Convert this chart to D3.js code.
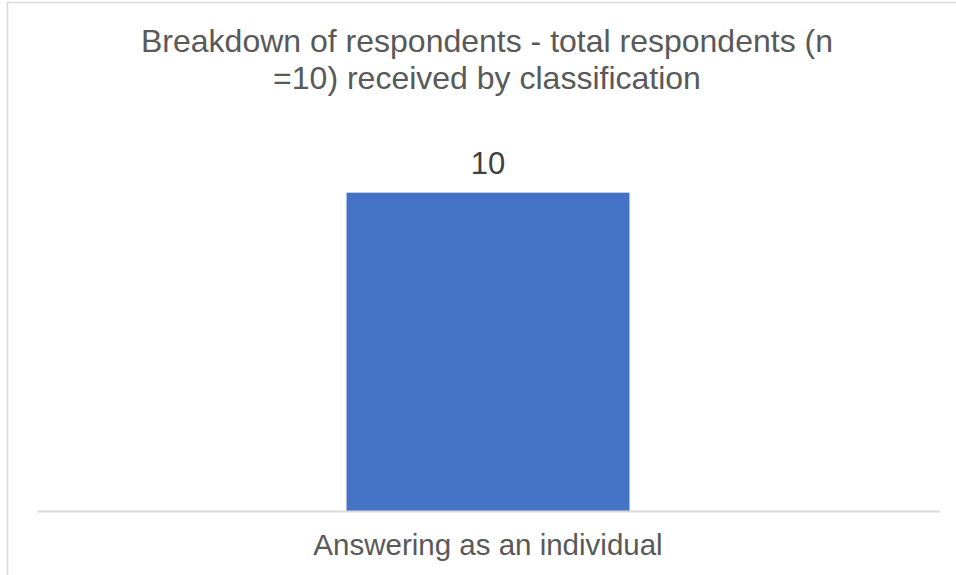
<!DOCTYPE html>
<html>
<head>
<meta charset="utf-8">
<script src="https://cdn.jsdelivr.net/npm/d3@7"></script>
<style>
  body { margin: 0; background: #fff; }
  svg { display: block; font-family: "Liberation Sans", Arial, sans-serif; }
</style>
</head>
<body>
<div id="chart"></div>
<script>
// chart data
var categories = ["Answering as an individual"];
var values = [10];
var titleLines = ["Breakdown of respondents - total respondents (n", "=10) received by classification"];

var svgWidth = 956;
var svgHeight = 575;

var svg = d3.select("#chart").append("svg").attr("width", svgWidth).attr("height", svgHeight);

// chart area border (right and bottom run off the page)
svg.append("rect").attr("x", 7.5).attr("y", 2.5).attr("width", 1000).attr("height", 700)
    .attr("fill", "#fff").attr("stroke", "#d9d9d9").attr("stroke-width", 1.5);

var plot = {left: 37, right: 939, top: 129, bottom: 511};

var xScale = d3.scaleBand().domain(categories).range([plot.left, plot.right])
    .paddingInner(0.5224).paddingOuter(0.5224);
var yScale = d3.scaleLinear().domain([0, 12]).range([plot.bottom, plot.top]);

// title
svg.append("g").selectAll("text").data(titleLines).enter().append("text")
    .attr("x", 487).attr("y", (d, i) => 52 + i * 37)
    .attr("text-anchor", "middle").attr("font-size", "32px").attr("fill", "#595959")
    .text(d => d);

// bars
svg.append("g").selectAll("rect").data(values).enter().append("rect")
    .attr("x", (d, i) => xScale(categories[i]))
    .attr("y", d => yScale(d))
    .attr("width", xScale.bandwidth())
    .attr("height", d => yScale(0) - yScale(d))
    .attr("fill", "#4472c4");

// data labels
svg.append("g").selectAll("text").data(values).enter().append("text")
    .attr("x", (d, i) => xScale(categories[i]) + xScale.bandwidth() / 2)
    .attr("y", d => yScale(d) - 19)
    .attr("text-anchor", "middle").attr("font-size", "31px").attr("fill", "#404040")
    .text(d => d);

// category axis
var bottomAxis = d3.axisBottom(xScale).tickSize(0).tickPadding(0);
var axisG = svg.append("g").attr("transform", `translate(0,${plot.bottom})`).call(bottomAxis);
axisG.select(".domain").attr("stroke", "#d9d9d9").attr("stroke-width", 2);
axisG.selectAll(".tick text").attr("y", 44).attr("dy", null)
    .attr("font-size", "29.5px").attr("font-family", "Liberation Sans, Arial, sans-serif").attr("fill", "#595959");
</script>
</body>
</html>
